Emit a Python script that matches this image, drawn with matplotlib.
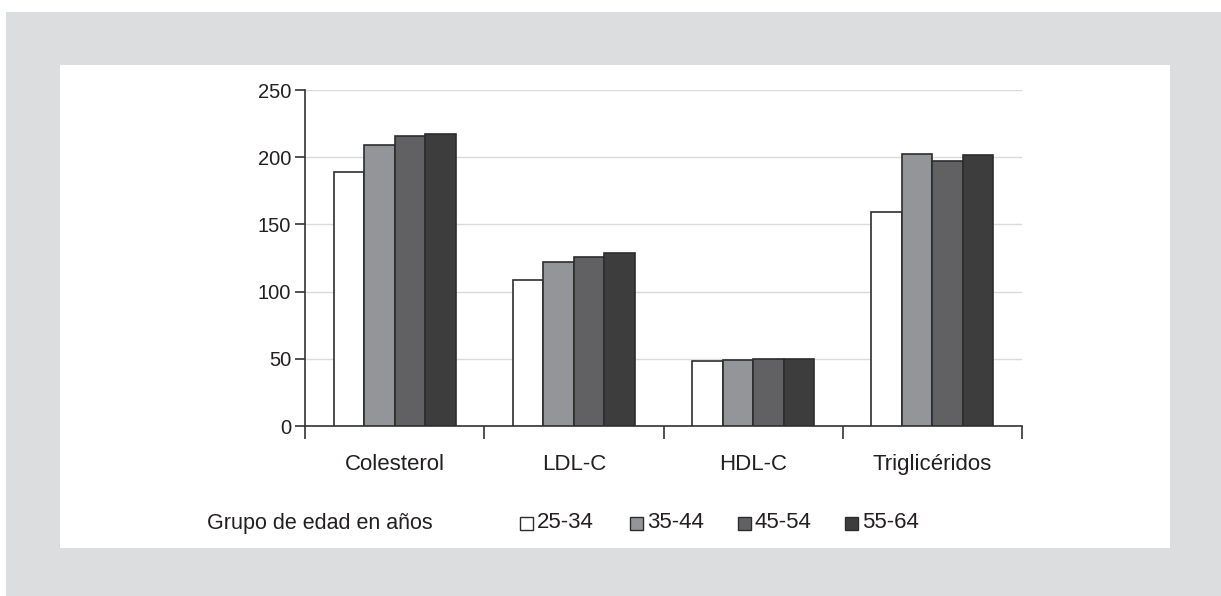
import matplotlib
matplotlib.use('Agg')
import matplotlib.pyplot as plt
from matplotlib.patches import Rectangle
import numpy as np

categories = ['Colesterol', 'LDL-C', 'HDL-C', 'Triglicéridos']
groups = ['25-34', '35-44', '45-54', '55-64']
v_25_34 = [189, 109, 48, 159]
v_35_44 = [209, 122, 49, 202.5]
v_45_54 = [215.5, 125.5, 50, 197]
v_55_64 = [217.5, 129, 50, 201.5]
series = [v_25_34, v_35_44, v_45_54, v_55_64]
yticks = [0, 50, 100, 150, 200, 250]
legend_title = 'Grupo de edad en años'

colors = ['#ffffff', '#939598', '#616163', '#3d3d3d']
edge = '#2d2d2d'
txt = '#231f20'

plt.rcParams['font.family'] = ['Liberation Sans', 'DejaVu Sans']

W, H = 1221, 596
fig = plt.figure(figsize=(W / 100, H / 100), dpi=100)
fig.patch.set_facecolor('white')


def px(x0, y0, x1, y1):
    return (x0 / W, 1 - y1 / H, (x1 - x0) / W, (y1 - y0) / H)


fig.add_artist(Rectangle((6 / W, 0), (W - 6) / W, 1 - 12 / H, transform=fig.transFigure,
                         facecolor='#dcdddf', edgecolor='none', zorder=-2))
fig.add_artist(Rectangle((60 / W, 1 - 548 / H), (1170 - 60) / W, (548 - 65) / H,
                         transform=fig.transFigure, facecolor='white', edgecolor='none', zorder=-1))

ax = fig.add_axes(px(305, 90, 1022, 426))
ax.patch.set_alpha(0)

x = np.arange(len(categories))
w = 0.17
for i, (vals, c) in enumerate(zip(series, colors)):
    ax.bar(x + (i - 1.5) * w, vals, w, color=c, edgecolor=edge, linewidth=1.2, zorder=3)

ax.set_xlim(-0.5, len(categories) - 0.5)
ax.set_ylim(0, 250)
ax.set_yticks(yticks)
ax.set_yticklabels([str(t) for t in yticks], fontsize=14.5, color=txt)
ax.yaxis.grid(True, color='#dadada', linewidth=1)
ax.set_axisbelow(True)

ax.set_xticks(x)
ax.set_xticklabels(categories, fontsize=16, color=txt)
ax.set_xticks(np.arange(len(categories) + 1) - 0.5, minor=True)
ax.tick_params(axis='x', which='major', length=0, pad=20)
ax.tick_params(axis='x', which='minor', length=9, width=1.2, color='#333333', direction='out')
ax.tick_params(axis='y', length=7, width=1.2, color='#333333', pad=3)

for s in ['top', 'right']:
    ax.spines[s].set_visible(False)
for s in ['left', 'bottom']:
    ax.spines[s].set_color('#333333')
    ax.spines[s].set_linewidth(1.2)

# legend
ly = 1 - 523 / H
fig.text(207 / W, ly, legend_title, ha='left', va='center', fontsize=15.5, color=txt)
sq_x = [520, 630, 738, 845]
sq = 13
for g, c, sx in zip(groups, colors, sq_x):
    fig.add_artist(Rectangle((sx / W, 1 - (523 + sq / 2) / H), sq / W, sq / H,
                             transform=fig.transFigure, facecolor=c, edgecolor=edge, linewidth=1.0))
    fig.text((sx + sq + 4) / W, ly, g, ha='left', va='center', fontsize=16, color=txt)

fig.savefig('out.png', dpi=100, facecolor=fig.get_facecolor())
